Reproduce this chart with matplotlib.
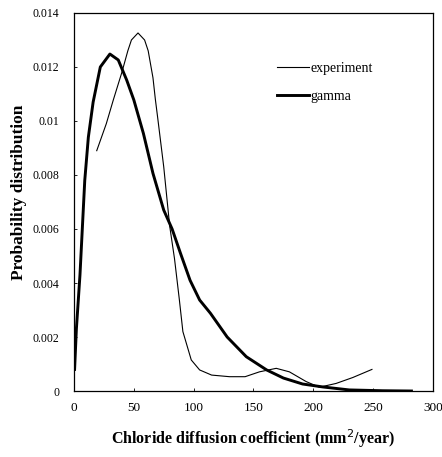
import matplotlib

matplotlib.use('Agg')
import matplotlib.pyplot as plt
from matplotlib.ticker import FuncFormatter

# values
EXP_X = [19, 27, 33, 40, 45, 48, 53.5, 59, 62, 66, 68, 70, 75, 80, 84, 88, 91,
         98, 105, 115, 130, 143, 155, 169, 180, 194, 205, 219, 233, 249]
EXP_Y = [0.0089, 0.0099, 0.0108, 0.0118, 0.0126, 0.0130, 0.01326, 0.0130,
         0.0126, 0.0116, 0.0108, 0.0101, 0.0083, 0.0061, 0.0049, 0.0034,
         0.0022, 0.00115, 0.00078, 0.00059, 0.00053, 0.00053, 0.00071,
         0.00084, 0.00071, 0.00035, 0.00014, 0.00028, 0.0005, 0.0008]

GAM_X = [0.5, 2, 5, 9, 12, 16, 22, 30, 37, 44, 50, 58, 66, 75, 82, 89, 97,
         105, 114, 128, 144, 161, 175, 191, 208, 230, 258, 282]
GAM_Y = [0.0008, 0.0023, 0.0043, 0.0078, 0.0094, 0.0107, 0.0120, 0.01248,
         0.01226, 0.01152, 0.01078, 0.00954, 0.00806, 0.0067, 0.0060, 0.0051,
         0.0041, 0.00337, 0.00288, 0.0020, 0.00127, 0.00078, 0.00048, 0.00026,
         0.00015, 0.00004, 0.00001, 0.0]

X_TICKS = [0, 50, 100, 150, 200, 250, 300]
Y_TICKS = [0, 0.002, 0.004, 0.006, 0.008, 0.01, 0.012, 0.014]

plt.rcParams['font.family'] = ['Liberation Serif', 'DejaVu Serif']

fig = plt.figure(figsize=(4.42, 4.57), dpi=100)
ax = fig.add_axes([0.1674, 0.1444, 0.8122, 0.8272])

ax.plot(EXP_X, EXP_Y, color='black', lw=0.8, label='experiment')
ax.plot(GAM_X, GAM_Y, color='black', lw=2.1, label='gamma')

ax.set_xlim(0, 300)
ax.set_ylim(0, 0.014)
ax.set_xticks(X_TICKS)
ax.set_yticks(Y_TICKS)
ax.yaxis.set_major_formatter(FuncFormatter(lambda v, p: f'{v:g}'))
ax.tick_params(direction='in', length=2, width=0.6)
ax.tick_params(axis='x', labelsize=9.5, pad=8)
ax.tick_params(axis='y', labelsize=8.5, pad=10.5)
for s in ax.spines.values():
    s.set_linewidth(0.9)

ax.set_xlabel('Chloride diffusion coefficient (mm$^{2}$/year)', fontsize=11.5,
              fontweight='bold')
ax.set_ylabel('Probability distribution', fontsize=12.5, fontweight='bold')
ax.xaxis.set_label_coords(0.5, -0.095)
ax.yaxis.set_label_coords(-0.13, 0.525)

ax.legend(loc='center left', bbox_to_anchor=(0.565, 0.816), frameon=False,
          fontsize=10, handlelength=2.3, handletextpad=0.15, labelspacing=1.1,
          borderaxespad=0, borderpad=0)

fig.savefig('out.png', dpi=100)
